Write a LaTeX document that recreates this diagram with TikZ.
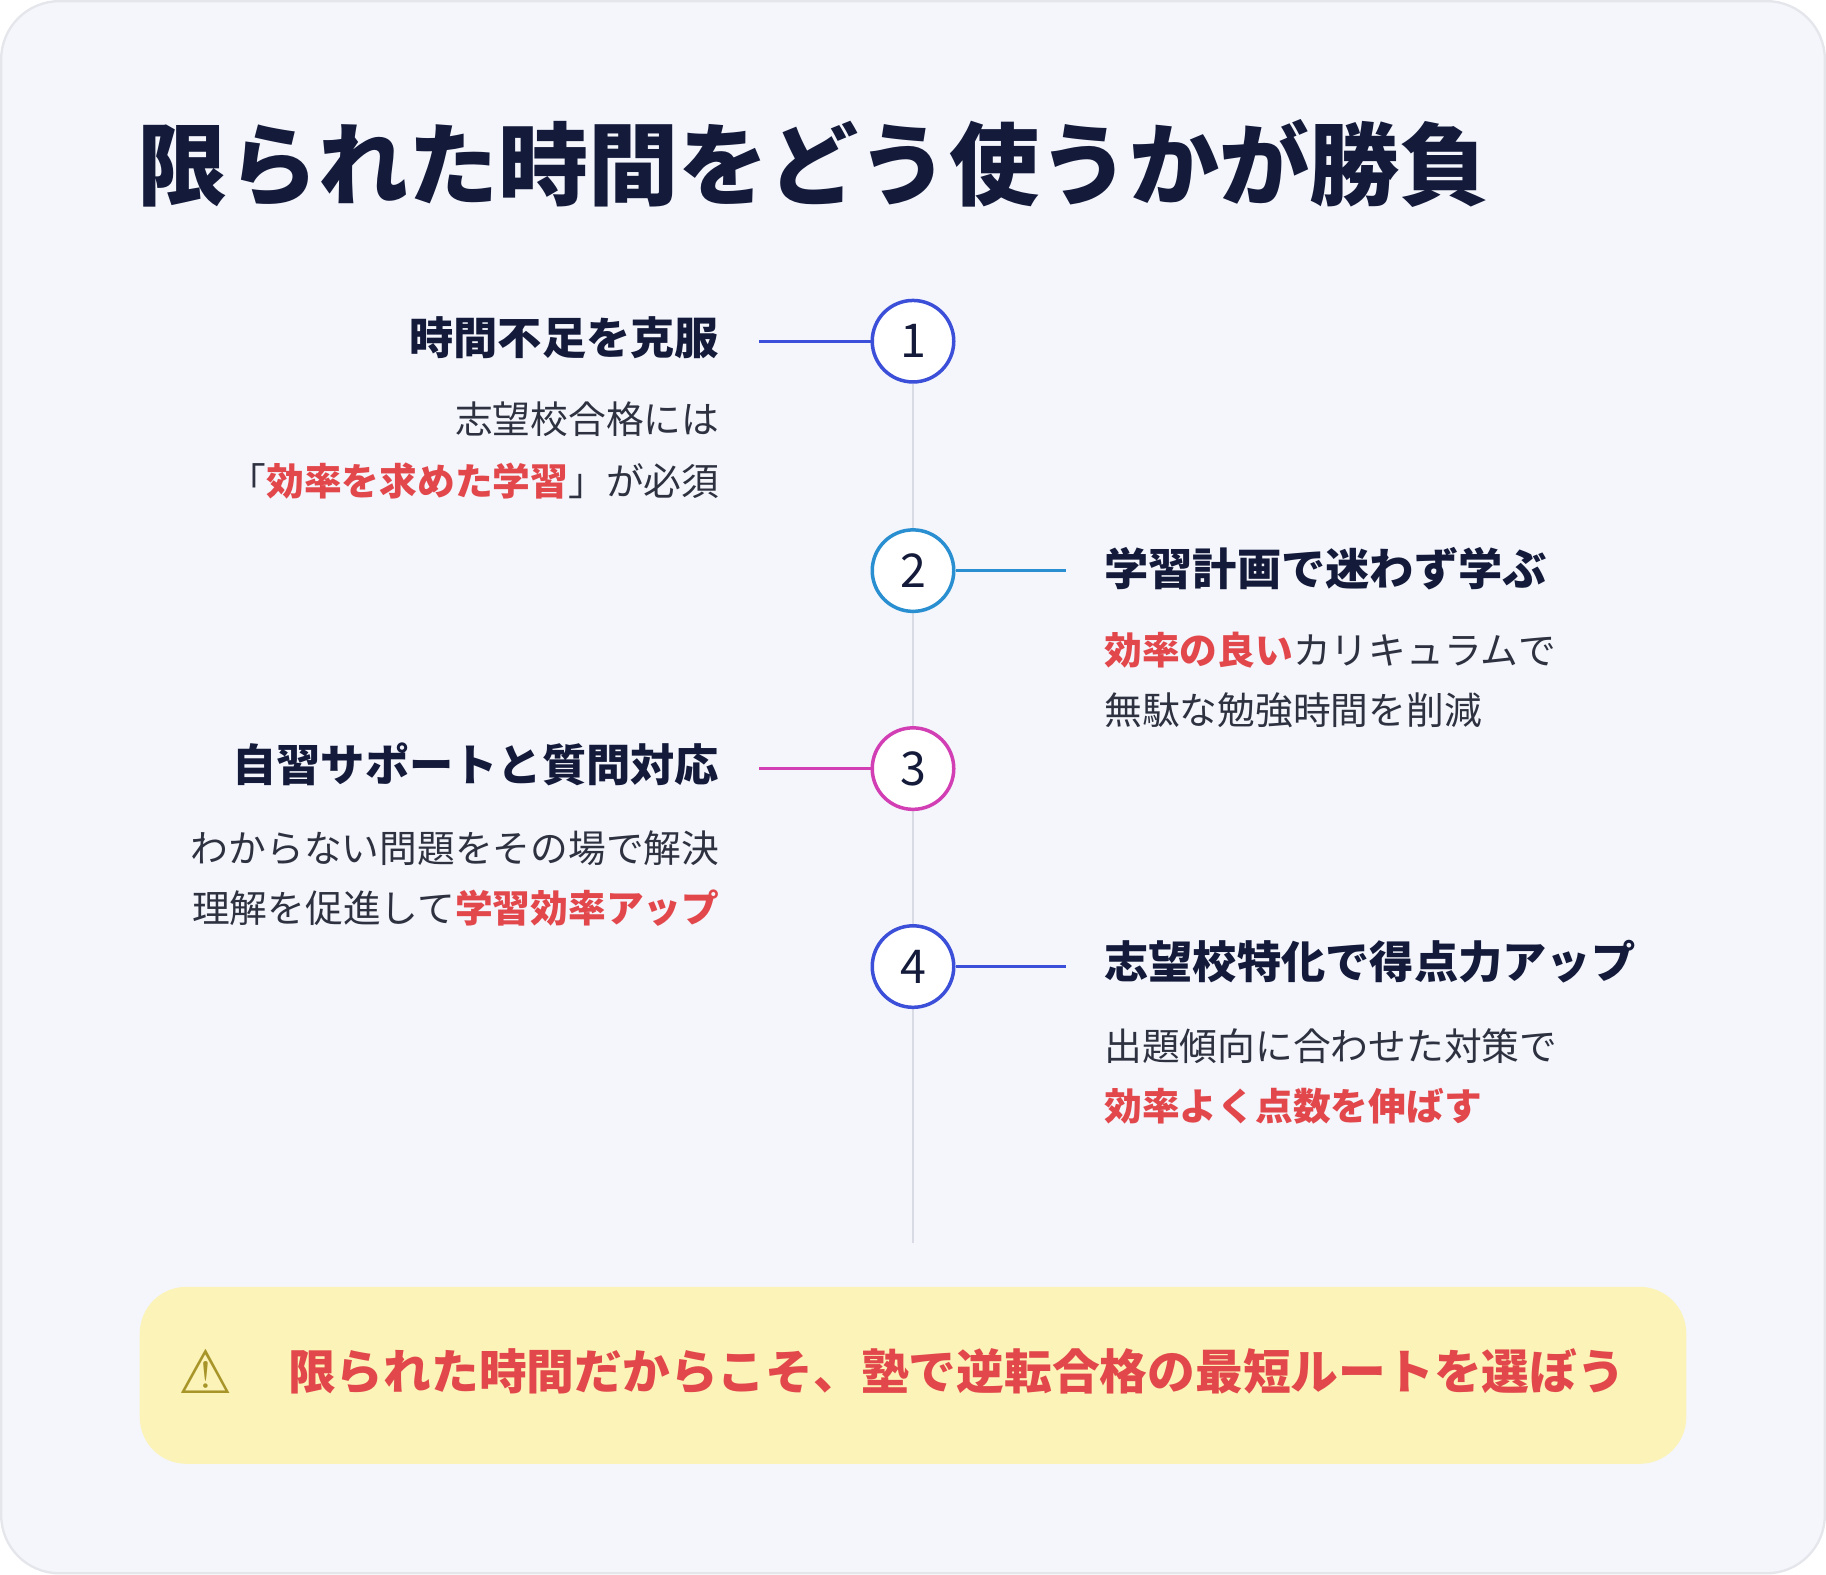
\documentclass[tikz,border=0pt]{standalone}
\usepackage{fontspec}
\setmainfont{Noto Sans CJK JP}
\newfontfamily\dvs{DejaVu Sans}
\definecolor{bgc}{HTML}{F4F6FC}
\definecolor{bordc}{HTML}{E4E6EC}
\definecolor{navy}{HTML}{141A3A}
\definecolor{txt}{HTML}{2E3240}
\definecolor{redc}{HTML}{E2474B}
\definecolor{cA}{HTML}{3B4FD8}
\definecolor{cB}{HTML}{2A8FD0}
\definecolor{cC}{HTML}{D23FB5}
\definecolor{linec}{HTML}{D8DBE3}
\definecolor{boxc}{HTML}{FCF3B8}
\definecolor{olive}{HTML}{A8952A}
\newcommand{\R}[1]{\textcolor{redc}{\bfseries #1}}
\begin{document}
\begin{tikzpicture}[x=0.5pt,y=-0.5pt,
  numc/.style={circle,draw=#1,line width=1.5pt,fill=white,minimum size=35pt,inner sep=0pt,font=\fontsize{20pt}{24pt}\selectfont,text=navy},
  head/.style={inner sep=0pt,font=\fontsize{19pt}{23pt}\selectfont\bfseries,text=navy},
  desc/.style={inner sep=0pt,font=\fontsize{16.2pt}{26pt}\selectfont,text=txt},
  conn/.style={line width=1.2pt,draw=#1}]
\useasboundingbox (0,0) rectangle (1568,1352);
\draw[fill=bgc,draw=bordc,line width=1pt,rounded corners=25pt] (1,1) rectangle (1567,1351);
\node[anchor=west,inner sep=0pt,font=\fontsize{38.7pt}{42pt}\selectfont\bfseries,text=navy] (title) at (118,140) {限られた時間をどう使うかが勝負};
\coordinate (ltop) at (784,330);
\coordinate (lbot) at (784,1067);
\draw[linec,line width=1pt] (ltop) -- (lbot);
\node[numc=cA] (n1) at (784,293) {1};
\node[numc=cB] (n2) at (784,490) {2};
\node[numc=cC] (n3) at (784,660) {3};
\node[numc=cA] (n4) at (784,830) {4};
\coordinate (c1) at (652,293); \coordinate (c2) at (915,490);
\coordinate (c3) at (652,660); \coordinate (c4) at (915,830);
\draw[conn=cA] (c1) -- (n1);
\draw[conn=cB] (n2) -- (c2);
\draw[conn=cC] (c3) -- (n3);
\draw[conn=cA] (n4) -- (c4);
\node[head,anchor=east] (h1) at (618,290) {時間不足を克服};
\node[desc,anchor=east] (d1a) at (618,360) {志望校合格には};
\node[desc,anchor=east] (d1b) at (618,413) {「\R{効率を求めた学習}」が必須};
\node[head,anchor=west] (h2) at (948,488) {学習計画で迷わず学ぶ};
\node[desc,anchor=west] (d2a) at (948,558) {\R{効率の良い}カリキュラムで};
\node[desc,anchor=west] (d2b) at (948,610) {無駄な勉強時間を削減};
\node[head,anchor=east] (h3) at (618,656) {自習サポートと質問対応};
\node[desc,anchor=east] (d3a) at (618,728) {わからない問題をその場で解決};
\node[desc,anchor=east] (d3b) at (618,780) {理解を促進して\R{学習効率アップ}};
\node[head,anchor=west] (h4) at (948,826) {志望校特化で得点力アップ};
\node[desc,anchor=west] (d4a) at (948,898) {出題傾向に合わせた対策で};
\node[desc,anchor=west] (d4b) at (948,950) {\R{効率よく点数を伸ばす}};
\draw[fill=boxc,draw=none,rounded corners=20pt] (120,1105) rectangle (1448,1257);
\node[inner sep=0pt,text=olive,font=\dvs\bfseries\fontsize{26pt}{28pt}\selectfont] (warn) at (177,1178) {⚠};
\node[anchor=west,inner sep=0pt,text=redc,font=\fontsize{20.5pt}{24pt}\selectfont\bfseries] (msg) at (247,1178) {限られた時間だからこそ、塾で逆転合格の最短ルートを選ぼう};
\end{tikzpicture}
\end{document}
